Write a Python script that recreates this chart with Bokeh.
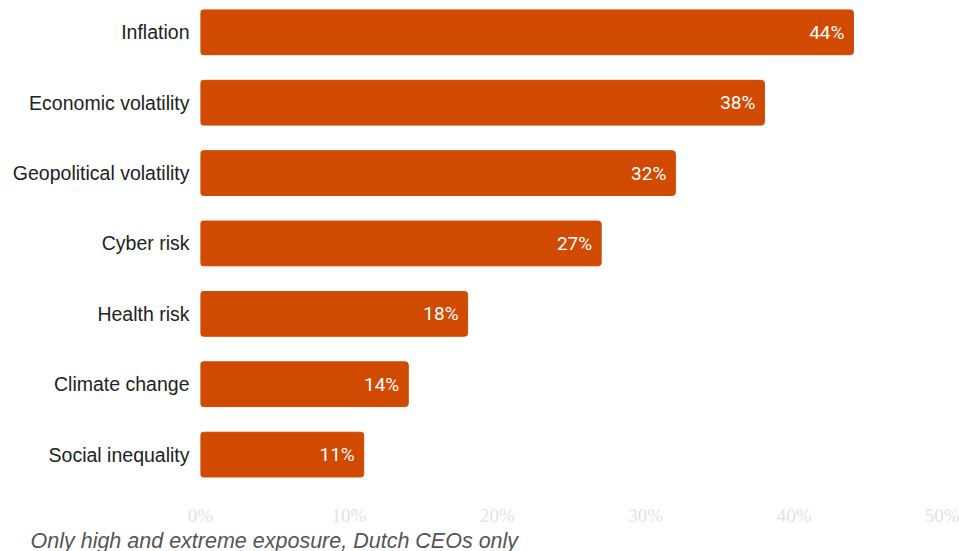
from bokeh.plotting import figure
from bokeh.models import ColumnDataSource, Range1d, FixedTicker, PrintfTickFormatter, Title
from bokeh.embed import file_html
from bokeh.resources import INLINE

categories = ["Inflation", "Economic volatility", "Geopolitical volatility", "Cyber risk",
              "Health risk", "Climate change", "Social inequality"]
values = [44, 38, 32, 27, 18, 14, 11]
x_ticks = [0, 10, 20, 30, 40, 50]
caption = "Only high and extreme exposure, Dutch CEOs only"

pos = list(range(len(categories)))
src = ColumnDataSource(dict(y=pos, v=values, lab=[f"{v}%" for v in values]))

p = figure(width=959, height=551, output_backend="svg", toolbar_location=None,
           x_range=Range1d(0, 50), y_range=Range1d(6.51, -0.452),
           min_border_top=0, min_border_left=200, min_border_right=17, min_border_bottom=0)
p.outline_line_color = None
p.grid.visible = False

p.hbar(y="y", right="v", left=0, height=0.636, source=src, color="#D04A02", border_radius=3)
p.text(x="v", y="y", text="lab", source=src, x_offset=-9, text_align="right",
       text_baseline="middle", text_color="white", text_font_size="19px",
       text_font={"value": "Roboto"})

p.yaxis.ticker = FixedTicker(ticks=pos)
p.yaxis.major_label_overrides = {i: c for i, c in enumerate(categories)}
p.yaxis.axis_line_color = None
p.yaxis.major_tick_line_color = None
p.yaxis.minor_tick_line_color = None
p.yaxis.major_label_standoff = 5
p.yaxis.major_label_text_font = "Liberation Sans"
p.yaxis.major_label_text_font_size = "19.5px"
p.yaxis.major_label_text_color = "#222222"

p.xaxis.ticker = FixedTicker(ticks=x_ticks)
p.xaxis.formatter = PrintfTickFormatter(format="%d%%")
p.xaxis.axis_line_color = None
p.xaxis.major_tick_line_color = None
p.xaxis.minor_tick_line_color = None
p.xaxis.major_label_standoff = 8
p.xaxis.major_label_text_font = "Liberation Sans Narrow"
p.xaxis.major_label_text_font_size = "19px"
p.xaxis.major_label_text_color = "#e2e2e2"

p.add_layout(Title(text=caption, align="left", offset=-170, standoff=-3,
                   text_font="Liberation Sans", text_font_style="italic",
                   text_font_size="21.5px", text_color="#555555"), "below")

open("out.html", "w").write(file_html(p, INLINE))
